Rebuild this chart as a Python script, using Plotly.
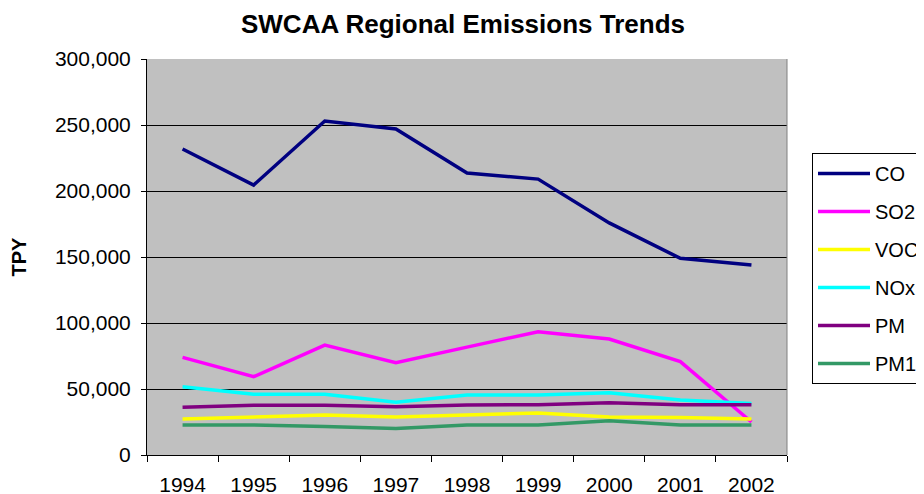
import plotly.graph_objects as go

years = ["1994", "1995", "1996", "1997", "1998", "1999", "2000", "2001", "2002"]
co = [231800, 204500, 253000, 247000, 213600, 209000, 175800, 149000, 144000]
so2 = [74000, 59300, 83300, 70000, 81700, 93400, 87900, 70700, 25000]
voc = [27300, 28500, 30300, 28800, 30100, 31800, 28800, 28500, 27300]
nox = [51700, 46000, 46000, 40000, 45500, 45500, 47200, 41700, 39100]
pm = [36100, 37600, 37600, 36600, 37900, 38100, 39600, 38100, 38100]
pm10 = [22700, 22700, 21500, 20000, 22700, 22700, 26000, 22700, 22700]

series_names = ["CO", "SO2", "VOC", "NOx", "PM", "PM10"]
series_vals = [co, so2, voc, nox, pm, pm10]
colors = ["#000080", "#FF00FF", "#FFFF00", "#00FFFF", "#800080", "#339966"]

FONT = "Liberation Sans, Arial, sans-serif"

fig = go.Figure()
for name, vals, col in zip(series_names, series_vals, colors):
    fig.add_trace(go.Scatter(
        x=years, y=vals, name=name, mode="lines",
        line=dict(color=col, width=3.5),
        legendgroup=name,
    ))

# page body adds an 8px offset; margins compensate for it
fig.update_layout(
    width=924, height=494,
    margin=dict(l=139, r=145, t=51, b=47, autoexpand=False),
    paper_bgcolor="white",
    plot_bgcolor="#C0C0C0",
    font=dict(family=FONT, color="black"),
    title=dict(
        text="<b>SWCAA Regional Emissions Trends</b>",
        font=dict(size=26, family=FONT, color="black"),
        x=455 / 924, xanchor="center", xref="container",
        y=1 - 16 / 494, yanchor="middle", yref="container",
    ),
    showlegend=True,
    legend=dict(
        x=(812 - 147) / 640, xanchor="left",
        y=(455 - 153) / 396, yanchor="top",
        bgcolor="white", bordercolor="black", borderwidth=1,
        font=dict(size=20, family=FONT, color="black"),
        tracegroupgap=9,
        itemwidth=52,
    ),
    xaxis=dict(
        type="category",
        range=[-0.5, 8.5],
        showgrid=False,
        tickson="boundaries",
        ticks="outside", ticklen=6, tickcolor="black",
        showline=True, linecolor="black", linewidth=1,
        tickfont=dict(size=21, family=FONT, color="black"),
        ticklabelstandoff=11,
        zeroline=False,
        automargin=False,
    ),
    yaxis=dict(
        range=[0, 300000],
        dtick=50000,
        tickformat=",",
        showgrid=True, gridcolor="black", gridwidth=1,
        ticks="outside", ticklen=5, tickcolor="black",
        showline=True, linecolor="black", linewidth=1,
        zeroline=False,
        ticklabelstandoff=6,
        automargin=False,
        tickfont=dict(size=21, family=FONT, color="black"),
        title=dict(text="<b>TPY</b>", font=dict(size=20, family=FONT, color="black"), standoff=24),
    ),
)

fig.add_shape(type="line", xref="paper", yref="paper", x0=1, x1=1, y0=0, y1=1,
              line=dict(color="#808080", width=1))

fig.write_html("out.html")
